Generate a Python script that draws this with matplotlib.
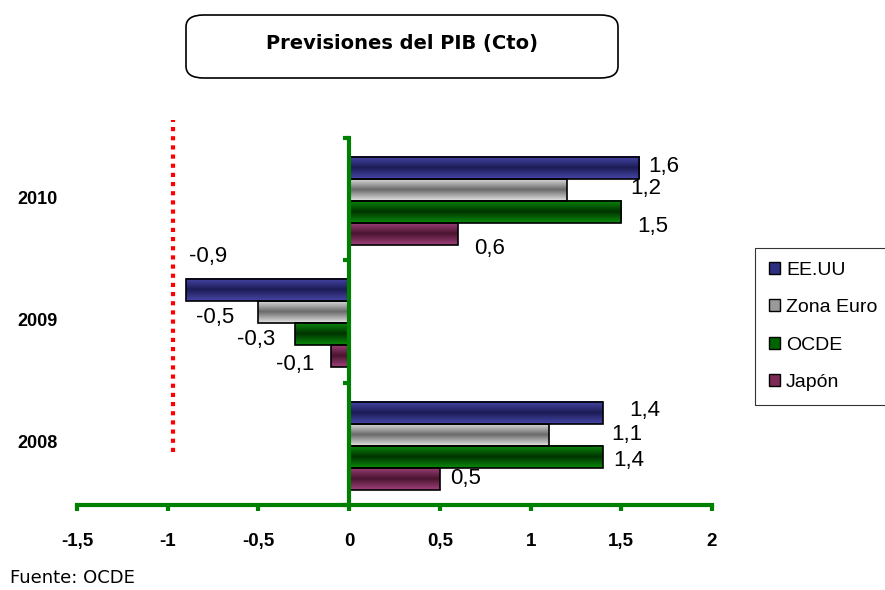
import matplotlib.pyplot as plt
import numpy as np
from matplotlib.colors import LinearSegmentedColormap
from matplotlib.patches import FancyBboxPatch, Patch
from matplotlib.transforms import blended_transform_factory

years = ['2008', '2009', '2010']
series = ['EE.UU', 'Zona Euro', 'OCDE', 'Japón']
eeuu = [1.4, -0.9, 1.6]
zona_euro = [1.1, -0.5, 1.2]
ocde = [1.4, -0.3, 1.5]
japon = [0.5, -0.1, 0.6]
xticks = [-1.5, -1, -0.5, 0, 0.5, 1, 1.5, 2]
xtick_labels = ['-1,5', '-1', '-0,5', '0', '0,5', '1', '1,5', '2']

values = [eeuu, zona_euro, ocde, japon]
# gradient colours per series: edge, centre, legend colour
grads = [('#4646a8', '#1c1c55', '#2e2e80'),
         ('#e2e2e2', '#6a6a6a', '#9a9a9a'),
         ('#0a8a0a', '#003300', '#006400'),
         ('#a0407a', '#4a1530', '#7a2a55')]
offsets = [0.255, 0.075, -0.105, -0.285]
bar_h = 0.18
# label offsets in pixels [series][year] (x, y up)
lab_off = [[(42, 2), (22, 34), (24, 1.5)],
           [(78, 0), (-43, -5.5), (79, 1.5)],
           [(26, -3.5), (-39, -5), (31, -14.5)],
           [(26, 0), (-36, -8), (32, -14.5)]]

plt.rcParams['font.family'] = ['Liberation Sans', 'DejaVu Sans']
fig = plt.figure(figsize=(8.85, 5.9), dpi=100)
ax = fig.add_axes([77/885, 1-505/590, 635/885, 367/590])
green = '#008000'

for s in range(4):
    cmap = LinearSegmentedColormap.from_list('g', [grads[s][0], grads[s][1], grads[s][0]])
    grad = np.linspace(0, 1, 50).reshape(-1, 1)
    for i in range(3):
        v = values[s][i]
        y = i + offsets[s]
        ax.imshow(grad, cmap=cmap, aspect='auto', extent=[0, v, y - bar_h/2, y + bar_h/2],
                  zorder=2, interpolation='bilinear')
        ax.barh(y, v, height=bar_h, color='none', edgecolor='black', linewidth=1.2, zorder=3)
        ax.annotate(f'{v:g}'.replace('.', ','), (v, y), xytext=lab_off[s][i],
                    textcoords='offset pixels', ha='center', va='center', fontsize=16)

ax.set_xlim(-1.5, 2)
ax.set_ylim(-0.5, 2.5)

# red dotted reference line
ax.plot([-0.97, -0.97], [-0.067, 2.647], color='red', linestyle=(0, (1, 1.2)),
        linewidth=3, clip_on=False, zorder=1)

for sp in ['top', 'right']:
    ax.spines[sp].set_visible(False)
ax.spines['left'].set_position(('data', 0))
ax.spines['left'].set_color(green)
ax.spines['left'].set_linewidth(3)
ax.spines['left'].set_zorder(4)
ax.spines['bottom'].set_color(green)
ax.spines['bottom'].set_linewidth(3)
ax.set_xticks(xticks)
ax.set_xticklabels(xtick_labels, fontsize=13.5, fontweight='bold')
ax.tick_params(axis='x', colors=green, length=4, width=3, pad=16, labelcolor='black')
ax.set_yticks([-0.5, 0.5, 1.5, 2.5])
ax.set_yticklabels([])
ax.tick_params(axis='y', colors=green, length=4, width=3)

tr = blended_transform_factory(ax.transAxes, ax.transData)
for i, yr in enumerate(years):
    ax.text(-0.062, i, yr, transform=tr, ha='center', va='center', fontsize=13, fontweight='bold')

handles = [Patch(facecolor=g[2], edgecolor='black') for g in grads]
leg = fig.legend(handles, series, loc='upper left', bbox_to_anchor=(755/885, 1-248/590),
                 fontsize=14, frameon=True, fancybox=False, handlelength=0.6, handleheight=0.6,
                 handletextpad=0.3, labelspacing=1.05, borderpad=0.7, borderaxespad=0)
leg.get_frame().set_edgecolor('black')
leg.get_frame().set_linewidth(0.8)

box = FancyBboxPatch((186/885, 1-78/590), 432/885, 63/590, boxstyle='round,pad=0,rounding_size=0.02',
                     transform=fig.transFigure, facecolor='white', edgecolor='black', linewidth=1.2)
fig.patches.append(box)
fig.text(402/885, 1-43/590, 'Previsiones del PIB (Cto)', ha='center', va='center',
         fontsize=14, fontweight='bold', family='DejaVu Sans')
fig.text(10/885, 1-578/590, 'Fuente: OCDE', ha='left', va='center', fontsize=13, family='DejaVu Sans')

fig.savefig('out.png', dpi=100)
